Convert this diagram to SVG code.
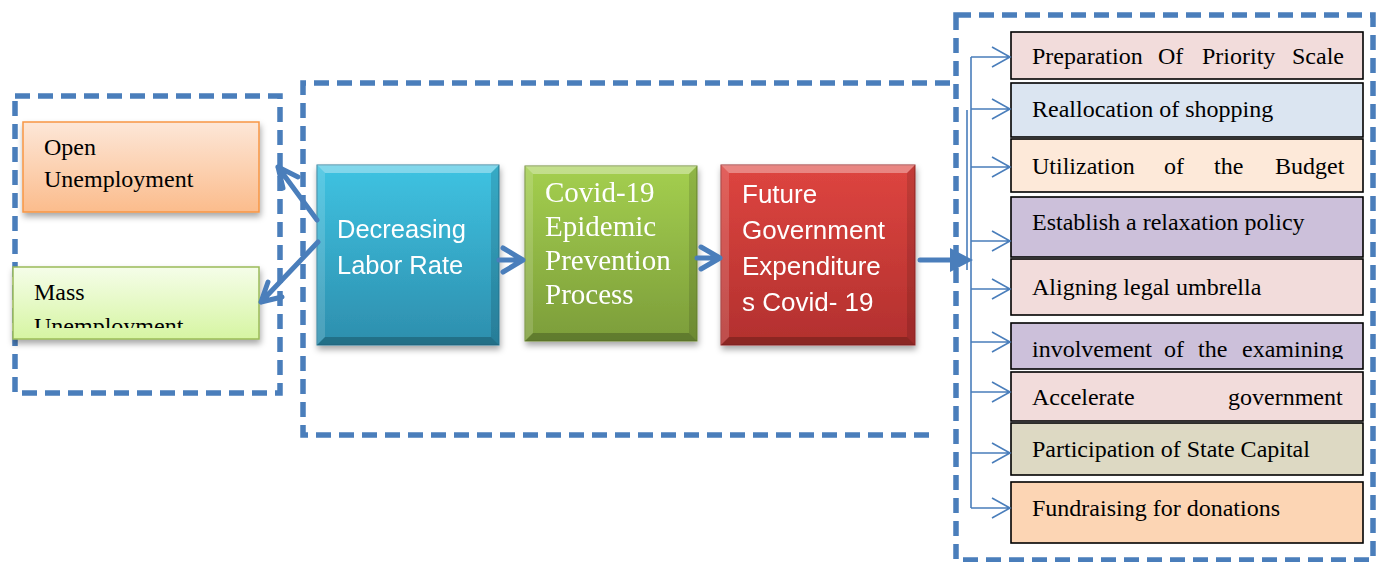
<svg xmlns="http://www.w3.org/2000/svg" width="1390" height="562" viewBox="0 0 1390 562">
<style>
.dash{fill:none;stroke:#4a7ebb;stroke-width:5.5;stroke-dasharray:15 8}
.thick{fill:none;stroke:#4a7ebb;stroke-width:5;stroke-linecap:round;stroke-linejoin:round}
.thin{fill:none;stroke:#4a7ebb;stroke-width:1.6}
.serif{font-family:"Liberation Serif","Times New Roman",serif;font-size:24px;fill:#000}
.wserif{font-family:"Liberation Serif","Times New Roman",serif;font-size:29px;fill:#fff}
.wsans{font-family:"Liberation Sans",Arial,sans-serif;fill:#fff}
.item{stroke:#000;stroke-width:1.6}
.hl{fill:#fff;opacity:.35}
.hl2{fill:#fff;opacity:.15}
.dk{fill:#000;opacity:.22}
.dk2{fill:#000;opacity:.12}
</style>
<defs>
<linearGradient id="gOrange" x1="0" y1="0" x2="0" y2="1"><stop offset="0" stop-color="#fde7d8"/><stop offset="1" stop-color="#fbbc8c"/></linearGradient>
<linearGradient id="gGreenL" x1="0" y1="0" x2="0" y2="1"><stop offset="0" stop-color="#f5fde9"/><stop offset="1" stop-color="#d6f5a2"/></linearGradient>
<linearGradient id="gBlue" x1="0" y1="0" x2="0" y2="1"><stop offset="0" stop-color="#3fc3e2"/><stop offset="1" stop-color="#2d8ead"/></linearGradient>
<linearGradient id="gGreen" x1="0" y1="0" x2="0" y2="1"><stop offset="0" stop-color="#a4cf4f"/><stop offset="1" stop-color="#7c9d3a"/></linearGradient>
<linearGradient id="gRed" x1="0" y1="0" x2="0" y2="1"><stop offset="0" stop-color="#de4540"/><stop offset="1" stop-color="#b2302e"/></linearGradient>
<filter id="shadow" x="-10%" y="-10%" width="130%" height="130%"><feDropShadow dx="1" dy="4" stdDeviation="3" flood-color="#000" flood-opacity="0.35"/></filter>
<clipPath id="clipMass"><rect x="13" y="267" width="247" height="61"/></clipPath>
<clipPath id="clipInv"><rect x="1011" y="323" width="352" height="36"/></clipPath>
</defs>

<g id="frames">
<rect class="dash" x="15" y="96" width="265" height="297"/>
<path class="dash" d="M950,83 H303 V435 H935"/>
<rect class="dash" x="956" y="15" width="417" height="545"/>
</g>

<g id="open-unemployment">
<rect x="23" y="122" width="236" height="90" fill="url(#gOrange)" stroke="#f79646" stroke-width="1.5" filter="url(#shadow)"/>
<text class="serif" x="44" y="155">Open</text>
<text class="serif" x="44" y="187">Unemployment</text>
</g>

<g id="mass-unemployment">
<rect x="13" y="267" width="246" height="72" fill="url(#gGreenL)" stroke="#9bbb59" stroke-width="1.5" filter="url(#shadow)"/>
<g clip-path="url(#clipMass)">
<text class="serif" x="34" y="300">Mass</text>
<text class="serif" x="34" y="334">Unemployment</text>
</g>
</g>

<g id="decreasing-labor-rate" filter="url(#shadow)">
<rect x="317" y="165" width="182" height="180" fill="url(#gBlue)" stroke="#2a7f9c" stroke-width="1"/>
<polygon class="hl" points="317,165 499,165 491,173 325,173"/>
<polygon class="hl2" points="317,165 325,173 325,337 317,345"/>
<polygon class="dk" points="317,345 325,337 491,337 499,345"/>
<polygon class="dk2" points="499,165 499,345 491,337 491,173"/>
<text class="wsans" font-size="25.5" x="337" y="238">Decreasing</text>
<text class="wsans" font-size="25.5" x="337" y="274">Labor Rate</text>
</g>

<g id="covid-prevention" filter="url(#shadow)">
<rect x="525" y="166" width="172" height="175" fill="url(#gGreen)" stroke="#6f8c33" stroke-width="1"/>
<polygon class="hl" points="525,166 697,166 689,174 533,174"/>
<polygon class="hl2" points="525,166 533,174 533,333 525,341"/>
<polygon class="dk" points="525,341 533,333 689,333 697,341"/>
<polygon class="dk2" points="697,166 697,341 689,333 689,174"/>
<text class="wserif" x="545" y="202">Covid-19</text>
<text class="wserif" x="545" y="236">Epidemic</text>
<text class="wserif" x="545" y="270">Prevention</text>
<text class="wserif" x="545" y="304">Process</text>
</g>

<g id="future-expenditure" filter="url(#shadow)">
<rect x="721" y="165" width="194" height="180" fill="url(#gRed)" stroke="#9b2a28" stroke-width="1"/>
<polygon class="hl" points="721,165 915,165 907,173 729,173"/>
<polygon class="hl2" points="721,165 729,173 729,337 721,345"/>
<polygon class="dk" points="721,345 729,337 907,337 915,345"/>
<polygon class="dk2" points="915,165 915,345 907,337 907,173"/>
<text class="wsans" font-size="26" x="742" y="203">Future</text>
<text class="wsans" font-size="26" x="742" y="239">Government</text>
<text class="wsans" font-size="26" x="742" y="275">Expenditure</text>
<text class="wsans" font-size="26" x="742" y="311">s Covid- 19</text>
</g>

<g id="item-1"><rect class="item" x="1011" y="32" width="352" height="47" fill="#f2dcdb"/>
<text class="serif" y="64"><tspan x="1032">Preparation</tspan><tspan x="1158">Of</tspan><tspan x="1202">Priority</tspan><tspan x="1292">Scale</tspan></text></g>
<g id="item-2"><rect class="item" x="1011" y="83" width="352" height="54" fill="#dbe5f1"/>
<text class="serif" x="1032" y="117">Reallocation of shopping</text></g>
<g id="item-3"><rect class="item" x="1011" y="139" width="352" height="53" fill="#fde9d9"/>
<text class="serif" y="174"><tspan x="1032">Utilization</tspan><tspan x="1164">of</tspan><tspan x="1214">the</tspan><tspan x="1275">Budget</tspan></text></g>
<g id="item-4"><rect class="item" x="1011" y="197" width="352" height="60" fill="#ccc0da"/>
<text class="serif" x="1032" y="230">Establish a relaxation policy</text></g>
<g id="item-5"><rect class="item" x="1011" y="259" width="352" height="56" fill="#f2dcdb"/>
<text class="serif" x="1032" y="295">Aligning legal umbrella</text></g>
<g id="item-6"><rect class="item" x="1011" y="323" width="352" height="46" fill="#ccc0da"/>
<text class="serif" y="357" clip-path="url(#clipInv)"><tspan x="1032">involvement</tspan><tspan x="1164">of</tspan><tspan x="1198">the</tspan><tspan x="1242">examining</tspan></text></g>
<g id="item-7"><rect class="item" x="1011" y="372" width="352" height="49" fill="#f2dcdb"/>
<text class="serif" y="405"><tspan x="1032">Accelerate</tspan><tspan x="1228">government</tspan></text></g>
<g id="item-8"><rect class="item" x="1011" y="423" width="352" height="52" fill="#ddd9c3"/>
<text class="serif" x="1032" y="457">Participation of State Capital</text></g>
<g id="item-9"><rect class="item" x="1011" y="482" width="352" height="61" fill="#fcd5b4"/>
<text class="serif" x="1032" y="516">Fundraising for donations</text></g>

<g id="connectors">
<path class="thick" d="M317,220 L278,167 M278,167 L283,188 M278,167 L298,177"/>
<path class="thick" d="M318,242 L261,302 M261,302 L268,282 M261,302 L282,297"/>
<path class="thick" d="M499,260 L523,260 M503,248 L523,260 L503,272"/>
<path class="thick" d="M697,258 L720,258 M701,247 L720,258 L701,269"/>
<path class="thick" d="M920,260 L952,260"/>
<polygon points="950,248 973,260 950,272" fill="#4a7ebb"/>
<path class="thin" d="M971,57 V508 M967,110 V270"/>
<g class="thin">
<path d="M971,57 H1010 M992,47 L1010,57 L992,67"/>
<path d="M971,109 H1010 M992,99 L1010,109 L992,119"/>
<path d="M971,167 H1010 M992,157 L1010,167 L992,177"/>
<path d="M971,241 H1010 M992,231 L1010,241 L992,251"/>
<path d="M971,289 H1010 M992,279 L1010,289 L992,299"/>
<path d="M971,342 H1010 M992,332 L1010,342 L992,352"/>
<path d="M971,392 H1010 M992,382 L1010,392 L992,402"/>
<path d="M971,453 H1010 M992,443 L1010,453 L992,463"/>
<path d="M971,508 H1010 M992,498 L1010,508 L992,518"/>
</g>
</g>
</svg>
